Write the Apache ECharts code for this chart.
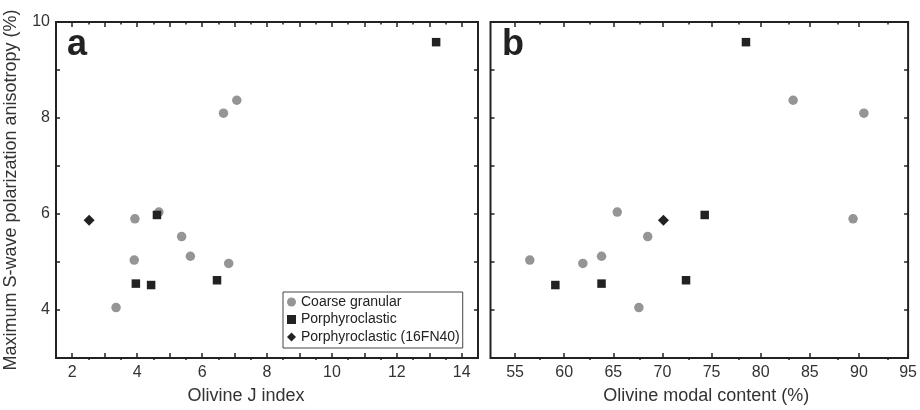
<!DOCTYPE html>
<html>
<head>
<meta charset="utf-8">
<script src="https://cdn.jsdelivr.net/npm/echarts@6/dist/echarts.min.js"></script>
<style>
  html, body { margin: 0; padding: 0; background: #fff; }
  #chart { width: 920px; height: 410px; }
</style>
</head>
<body>
<div id="chart"></div>
<script>
// values
var coarseAniso = [8.37, 8.10, 5.90, 6.04, 5.53, 5.04, 5.12, 4.97, 4.05];
var coarseJ = [7.07, 6.66, 3.93, 4.67, 5.37, 3.91, 5.64, 6.82, 3.35];
var coarseOl = [83.3, 90.5, 89.4, 65.4, 68.5, 56.5, 63.8, 61.9, 67.6];

var porphAniso = [9.58, 5.98, 4.55, 4.52, 4.62];
var porphJ = [13.21, 4.61, 3.96, 4.43, 6.46];
var porphOl = [78.5, 74.3, 63.8, 59.1, 72.4];

var fn40Aniso = [5.87];
var fn40J = [2.52];
var fn40Ol = [70.1];

// tick labels / tick positions
var jLabels = [2, 4, 6, 8, 10, 12, 14];
var jMajor = [2, 3, 4, 5, 6, 7, 8, 9, 10, 11, 12, 13, 14];
var jMinor = [2.5, 3.5, 4.5, 5.5, 6.5, 7.5, 8.5, 9.5, 10.5, 11.5, 12.5, 13.5];
var olLabels = [55, 60, 65, 70, 75, 80, 85, 90, 95];
var olMinor = [57.5, 62.5, 67.5, 72.5, 77.5, 82.5, 87.5, 92.5];
var yLabels = [4, 6, 8, 10];
var yTicks = [3, 4, 5, 6, 7, 8, 9, 10];

var FONT = 'Liberation Sans, Arial, Helvetica, sans-serif';
var INK = '#222';

function pairs(xs, ys) {
  return xs.map(function (x, i) { return [x, ys[i]]; });
}

function xAxis(grid, pos, min, max, ticks, len, labels) {
  return {
    type: 'value', gridIndex: grid, position: pos, min: min, max: max,
    axisLine: { show: false },
    splitLine: { show: false },
    axisTick: { show: true, inside: true, length: len, customValues: ticks,
                lineStyle: { color: INK, width: 1.5 } },
    axisLabel: labels ? { show: true, customValues: labels, margin: 7,
                          fontFamily: FONT, fontSize: 16, color: '#333' }
                      : { show: false }
  };
}

function yAxis(grid, pos, labels) {
  return {
    type: 'value', gridIndex: grid, position: pos, min: 3, max: 10,
    axisLine: { show: false },
    splitLine: { show: false },
    axisTick: { show: true, inside: true, length: 4, customValues: yTicks,
                lineStyle: { color: INK, width: 1.5 } },
    axisLabel: labels ? { show: true, customValues: labels, margin: 6,
                          fontFamily: FONT, fontSize: 16, color: '#333' }
                      : { show: false }
  };
}

var gridA = { left: 56, top: 22, width: 422, height: 338 };
var gridB = { left: 490.5, top: 22, width: 422, height: 338 };

var xAxes = [
  xAxis(0, 'bottom', 1.5, 14.5, jMajor, 5, jLabels),
  xAxis(0, 'top', 1.5, 14.5, jMajor, 5, null),
  xAxis(1, 'bottom', 1.5, 14.5, jMinor, 2.5, null),
  xAxis(1, 'top', 1.5, 14.5, jMinor, 2.5, null),
  xAxis(2, 'bottom', 52.5, 95, olLabels, 5, olLabels),
  xAxis(2, 'top', 52.5, 95, olLabels, 5, null),
  xAxis(3, 'bottom', 52.5, 95, olMinor, 2.5, null),
  xAxis(3, 'top', 52.5, 95, olMinor, 2.5, null)
];
xAxes[0].name = 'Olivine J index';
xAxes[0].nameLocation = 'middle';
xAxes[0].nameGap = 29;
xAxes[0].nameTextStyle = { fontFamily: FONT, fontSize: 18, color: '#333', padding: [0, 42, 0, 0] };
xAxes[4].name = 'Olivine modal content (%)';
xAxes[4].nameLocation = 'middle';
xAxes[4].nameGap = 29;
xAxes[4].nameTextStyle = { fontFamily: FONT, fontSize: 18, color: '#333', padding: [0, 0, 0, 14] };

var yAxes = [
  yAxis(0, 'left', yLabels),
  yAxis(0, 'right', null),
  { type: 'value', gridIndex: 1, min: 3, max: 10, show: false },
  yAxis(2, 'left', null),
  yAxis(2, 'right', null),
  { type: 'value', gridIndex: 3, min: 3, max: 10, show: false }
];
yAxes[0].name = 'Maximum S-wave polarization anisotropy (%)';
yAxes[0].nameLocation = 'middle';
yAxes[0].nameGap = 36;
yAxes[0].nameTextStyle = { fontFamily: FONT, fontSize: 18, color: '#333' };

var GREY = '#959595';

function scatter(name, xi, yi, data, symbol, size, color) {
  return {
    name: name, type: 'scatter', xAxisIndex: xi, yAxisIndex: yi,
    data: data, symbol: symbol, symbolSize: size,
    itemStyle: { color: color, opacity: 1 },
    emphasis: { disabled: true }
  };
}

var option = {
  animation: false,
  backgroundColor: '#fff',
  title: [
    { text: 'a', left: 67, top: 27, padding: 0,
      textStyle: { fontFamily: FONT, fontSize: 36, fontWeight: 'bold', color: INK } },
    { text: 'b', left: 502, top: 27, padding: 0,
      textStyle: { fontFamily: FONT, fontSize: 36, fontWeight: 'bold', color: INK } }
  ],
  legend: {
    orient: 'vertical', left: 283, top: 292,
    padding: [3, 3, 4, 4], itemGap: 3.5, itemWidth: 9, itemHeight: 9,
    backgroundColor: '#fff', borderColor: '#444', borderWidth: 1, borderRadius: 0,
    textStyle: { fontFamily: FONT, fontSize: 14, color: INK },
    data: ['Coarse granular', 'Porphyroclastic', 'Porphyroclastic (16FN40)']
  },
  grid: [
    Object.assign({ show: true, borderColor: INK, borderWidth: 2 }, gridA),
    Object.assign({}, gridA),
    Object.assign({ show: true, borderColor: INK, borderWidth: 2 }, gridB),
    Object.assign({}, gridB)
  ],
  xAxis: xAxes,
  yAxis: yAxes,
  series: [
    scatter('Coarse granular', 0, 0, pairs(coarseJ, coarseAniso), 'circle', 9.5, GREY),
    scatter('Porphyroclastic', 0, 0, pairs(porphJ, porphAniso), 'rect', 8.5, INK),
    scatter('Porphyroclastic (16FN40)', 0, 0, pairs(fn40J, fn40Aniso), 'diamond', 11, INK),
    scatter('Coarse granular', 4, 3, pairs(coarseOl, coarseAniso), 'circle', 9.5, GREY),
    scatter('Porphyroclastic', 4, 3, pairs(porphOl, porphAniso), 'rect', 8.5, INK),
    scatter('Porphyroclastic (16FN40)', 4, 3, pairs(fn40Ol, fn40Aniso), 'diamond', 11, INK)
  ]
};

var chart = echarts.init(document.getElementById('chart'), null, { renderer: 'canvas' });
chart.setOption(option);
</script>
</body>
</html>
